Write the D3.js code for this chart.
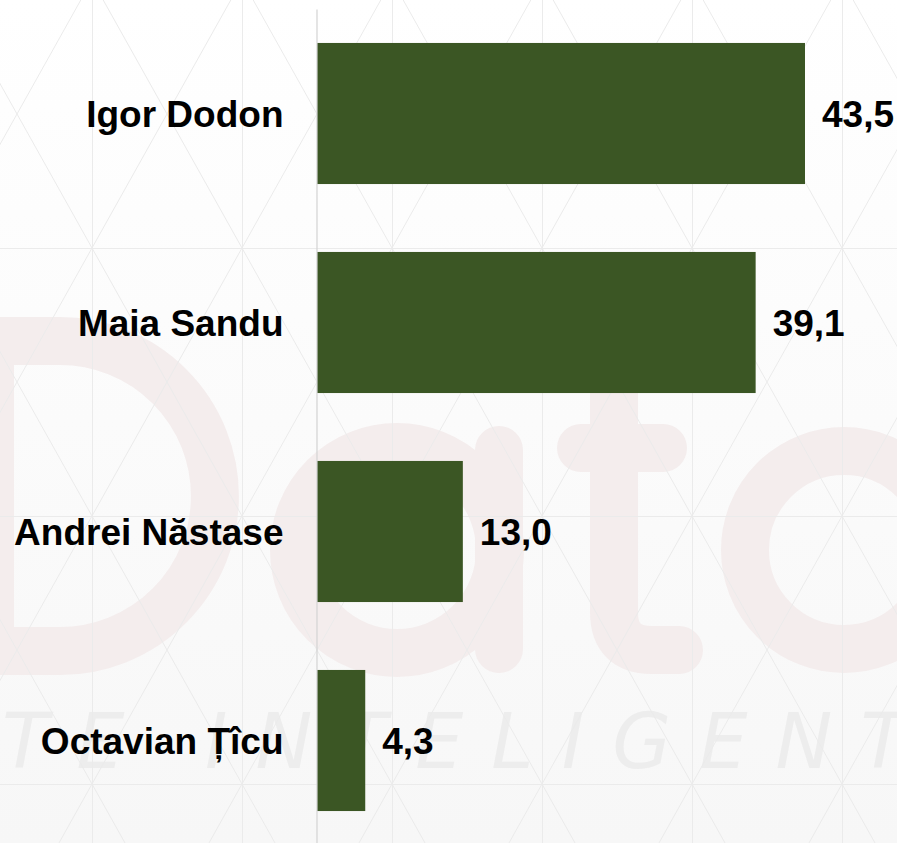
<!DOCTYPE html>
<html>
<head>
<meta charset="utf-8">
<script src="https://cdn.jsdelivr.net/npm/d3@7"></script>
<style>
  html, body { margin: 0; padding: 0; background: #fbfbfb; }
  svg { display: block; }
</style>
</head>
<body>
<script>
// election results, first round (%)
var candidates = ["Igor Dodon", "Maia Sandu", "Andrei Năstase", "Octavian Țîcu"];
var votes = [43.5, 39.1, 13.0, 4.3];

var W = 897, H = 843;
var barColor = "#3b5624";
var fmt = d3.formatLocale({decimal: ",", thousands: ".", grouping: [3], currency: ["", ""]}).format(".1f");

var data = candidates.map(function(c, i){ return {name: c, value: votes[i]}; });

var svg = d3.select("body").append("svg")
	.attr("width", W)
	.attr("height", H);

// ---- background: soft gradient, triangle grid, faded watermark ----
var defs = svg.append("defs");
var grad = defs.append("linearGradient").attr("id", "bg")
	.attr("x1", 0).attr("y1", 0).attr("x2", 0).attr("y2", 1);
grad.append("stop").attr("offset", "0").attr("stop-color", "#ffffff");
grad.append("stop").attr("offset", "1").attr("stop-color", "#f7f7f7");

svg.append("rect").attr("width", W).attr("height", H).attr("fill", "url(#bg)");

var wm = svg.append("g")
	.attr("class", "watermark")
	.attr("fill", "none")
	.attr("stroke", "#f4eded")
	.attr("stroke-width", 48)
	.attr("stroke-linecap", "round")
	.attr("stroke-linejoin", "round");
// D
wm.append("path").attr("d", "M-10,341 H60 A155,155 0 0 1 60,651 H-10 Z").attr("stroke-linejoin", "miter");
// a
wm.append("circle").attr("cx", 397).attr("cy", 550).attr("r", 103);
wm.append("path").attr("d", "M499,450 V649");
// t
wm.append("path").attr("d", "M614,330 V612 Q614,650 652,650 H679");
wm.append("path").attr("d", "M581,448 H663");
// a
wm.append("circle").attr("cx", 844).attr("cy", 550).attr("r", 99);
wm.append("path").attr("d", "M943,450 V649");

svg.append("text")
	.attr("x", 2)
	.attr("y", 768)
	.attr("textLength", 905)
	.attr("lengthAdjust", "spacing")
	.attr("font-family", "DejaVu Sans, sans-serif")
	.attr("font-weight", 200)
	.attr("font-style", "italic")
	.attr("font-size", "76px")
	.attr("fill", "#ededed")
	.text("TE INTELIGENT");

var grid = svg.append("g")
	.attr("class", "grid")
	.attr("stroke", "#ebebeb")
	.attr("stroke-width", 1);

var gx0 = 92, gy0 = 248, gdx = 150, gdy = 268;
var slope = (gdx / 2) / (gdy / 2);

grid.selectAll(".vline")
	.data(d3.range(0, 6))
	.enter().append("line")
		.attr("x1", function(i){ return gx0 + i*gdx + 0.5; })
		.attr("x2", function(i){ return gx0 + i*gdx + 0.5; })
		.attr("y1", 0).attr("y2", H);

grid.selectAll(".hline")
	.data(d3.range(0, 3))
	.enter().append("line")
		.attr("y1", function(j){ return gy0 + j*gdy + 0.5; })
		.attr("y2", function(j){ return gy0 + j*gdy + 0.5; })
		.attr("x1", 0).attr("x2", W);

[1, -1].forEach(function(dir){
	grid.selectAll(".diag" + dir)
		.data(d3.range(-8, 14))
		.enter().append("line")
			.attr("x1", function(i){ return gx0 + i*gdx + dir*(-30 - gy0)*slope; })
			.attr("y1", -30)
			.attr("x2", function(i){ return gx0 + i*gdx + dir*(H + 30 - gy0)*slope; })
			.attr("y2", H + 30);
});

// ---- chart ----
var axisX = 316;

var y = d3.scaleBand()
	.domain(candidates)
	.range([9, 845])
	.paddingInner(0.325)
	.paddingOuter(0.1625);

var x = d3.scaleLinear()
	.domain([0, 43.5])
	.range([axisX + 1, 805]);

svg.selectAll(".bar")
	.data(data)
	.enter().append("rect")
		.attr("class", "bar")
		.attr("x", x(0))
		.attr("y", function(d){ return y(d.name); })
		.attr("width", function(d){ return x(d.value) - x(0); })
		.attr("height", y.bandwidth())
		.attr("fill", barColor);

var yAxis = svg.append("g")
	.attr("class", "y-axis")
	.attr("transform", "translate(" + (axisX + 0.5) + ",0)")
	.call(d3.axisLeft(y).tickSize(0).tickSizeOuter(0).tickPadding(33));

yAxis.select(".domain")
	.attr("stroke", "#d3d3d3")
	.attr("stroke-width", 1.2);

yAxis.selectAll(".tick text")
	.attr("dy", "0.36em")
	.attr("font-family", "Liberation Sans, Arial, sans-serif")
	.attr("font-weight", 700)
	.attr("font-size", "37px")
	.attr("fill", "#000");

svg.selectAll(".valueLabel")
	.data(data)
	.enter().append("text")
		.attr("class", "valueLabel")
		.attr("x", function(d){ return x(d.value) + 17; })
		.attr("y", function(d){ return y(d.name) + y.bandwidth()/2; })
		.attr("dy", "0.36em")
		.attr("font-family", "Liberation Sans, Arial, sans-serif")
		.attr("font-weight", 700)
		.attr("font-size", "37px")
		.attr("fill", "#000")
		.text(function(d){ return fmt(d.value); });
</script>
</body>
</html>
